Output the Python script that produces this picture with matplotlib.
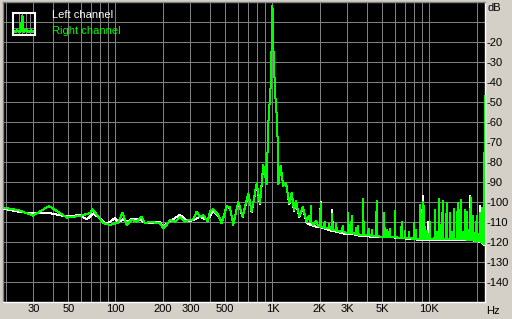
import numpy as np
import matplotlib
matplotlib.use("Agg")
import matplotlib.pyplot as plt

# ---------------- data ----------------
# Right channel (green) – smooth part / lobes around the 1 kHz tone
green_freq = [19.2, 24.6, 29.8, 37.7, 49.1, 59.4, 68.8, 71.6, 83.2, 92.3,
              103.7, 111.1, 117.8, 126.8, 136.5, 146.8, 154.2, 165.9, 178.5, 192.0,
              201.6, 211.9, 222.4, 239.3, 257.5, 277.1, 290.9, 313.0, 329.0, 345.3,
              362.4, 386.6, 399.9, 419.7, 451.6, 474.6, 510.7, 536.1, 562.8, 605.5,
              645.9, 701.3, 737.1, 793.0, 832.6, 874.0, 918.5, 940.2, 971.1, 989.8,
              1000, 1010.3, 1037.3, 1072.9, 1091.9, 1127, 1172, 1219, 1280, 1326,
              1371, 1410, 1480, 1560, 1650, 1700, 1819, 1900, 1950, 2007,
              2214, 2439, 2691, 2969, 3270, 3608, 3981, 4386, 4838, 5882,
              6488, 8699, 11667, 15645, 20980, 22250, 22550]
green_db = [-102.7, -104.3, -106.8, -102.0, -107.8, -107.0, -105.5, -103.7, -110.5, -111.5,
            -110.3, -105.3, -111.5, -109.0, -109.8, -107.3, -110.7, -109.8, -110.3, -110.7,
            -113.2, -111.5, -109.0, -109.8, -107.7, -109.8, -109.0, -108.7, -104.8, -107.3,
            -106.5, -109.8, -104.8, -103.7, -106.5, -110.7, -102.0, -102.7, -111.5, -99.8,
            -107.3, -95.7, -104.8, -90.7, -100.7, -81.5, -91.0, -61.0, -44.0, -20.0,
            -2.0, -20.0, -44.0, -61.0, -91.0, -82.0, -92.0, -90.3, -100.7, -95.3,
            -104.0, -99.5, -107.0, -102.5, -110.0, -107.0, -111.5, -109.5, -112.0, -112.3,
            -113.2, -114.0, -114.8, -115.7, -115.7, -116.5, -116.5, -117.0, -117.3, -117.3,
            -118.2, -118.5, -118.5, -118.5, -119.5, -121.0, -47.0]

# Right channel (green) – narrow spurs in the noise floor: frequency, top, foot
green_spur_freq = [1759, 2027, 2150, 2300, 2404, 2550, 2800, 3040, 3195, 3400,
                   3500, 3787, 4100, 4300, 4610, 5154, 5400, 5600, 6029, 6652,
                   7000, 7400, 7964, 8200, 8699, 9053, 9267, 9700, 10074, 10840,
                   11100, 11548, 12140, 12873, 13510, 14000, 14325, 15122, 15801, 16300,
                   16833, 17412, 17900, 18300, 19010, 19980, 20500, 20970, 21695]
green_spur_top = [-102.0, -100.7, -110.0, -111.0, -106.0, -111.0, -112.0, -105.7, -107.0, -113.0,
                  -112.0, -98.7, -113.5, -114.0, -99.3, -105.3, -114.0, -113.5, -104.3, -109.8,
                  -114.5, -115.0, -110.7, -114.0, -101.5, -100.0, -102.0, -114.5, -110.0, -104.0,
                  -115.0, -98.7, -99.3, -100.3, -105.7, -115.0, -103.7, -100.3, -99.0, -115.0,
                  -104.0, -104.8, -115.0, -97.7, -107.0, -107.0, -116.0, -105.5, -103.0]
green_spur_foot = [-110.0, -112.3, -112.8, -113.0, -114.0, -114.2, -114.6, -115.5, -115.7, -115.9,
                   -116.0, -116.5, -116.5, -116.8, -117.0, -117.3, -117.3, -117.3, -117.5, -118.0,
                   -118.1, -118.2, -118.3, -118.4, -118.5, -118.5, -118.5, -118.5, -118.5, -118.5,
                   -118.5, -118.5, -118.5, -118.5, -118.5, -118.5, -118.5, -118.5, -118.5, -118.6,
                   -118.7, -118.8, -118.9, -119.0, -119.2, -119.4, -119.5, -119.5, -120.0]

# Left channel (white)
white_freq = [19.2, 24.6, 29.8, 36.5, 48.9, 59.4, 65.6, 72.2, 87.9, 99.3,
              104.2, 111.6, 118.3, 126.8, 133.1, 143.2, 154.2, 178.5, 192.0, 201.6,
              222.4, 257.5, 290.9, 313.0, 345.3, 386.6, 419.7, 451.6, 474.6, 510.7,
              536.1, 562.8, 605.5, 645.9, 701.3, 737.1, 793.0, 832.6, 874.0, 918.5,
              940.2, 971.1, 989.8, 1000, 1010.3, 1037.3, 1072.9, 1091.9, 1127, 1172,
              1219, 1280, 1326, 1371, 1410, 1480, 1560, 1650, 1819, 2007,
              2439, 2969, 3608, 4386, 5882, 8699, 11667, 15645, 20980, 22250]
white_db = [-103.3, -105.0, -105.7, -105.3, -107.3, -106.5, -108.7, -105.7, -111.0, -108.0,
            -110.3, -108.5, -110.0, -108.5, -108.5, -108.7, -110.5, -110.3, -110.0, -112.5,
            -109.5, -106.5, -109.7, -109.0, -107.5, -109.0, -104.3, -107.0, -110.0, -102.3,
            -103.0, -111.0, -100.0, -107.5, -96.0, -105.0, -91.0, -101.0, -82.0, -91.0,
            -61.0, -44.0, -20.0, -2.0, -20.0, -44.0, -61.0, -91.0, -82.0, -92.0,
            -90.5, -101.0, -95.5, -104.5, -100.0, -107.5, -103.0, -110.5, -112.0, -112.7,
            -114.4, -116.1, -116.9, -117.4, -117.7, -118.9, -118.9, -118.9, -119.9, -121.3]
white_spur_freq = [2027, 2404, 3195, 9053, 9800, 18200, 21000]
white_spur_top = [-100.0, -104.0, -108.0, -97.0, -110.0, -97.0, -102.0]
white_spur_foot = [-112.7, -114.4, -116.0, -118.9, -118.9, -119.0, -119.9]

# axis texts
x_tick_freq = [30, 50, 100, 200, 300, 500, 1000, 2000, 3000, 5000, 10000]
x_tick_text = ["30", "50", "100", "200", "300", "500", "1K", "2K", "3K", "5K", "10K"]
y_tick_db = [-20, -30, -40, -50, -60, -70, -80, -90, -100, -110, -120, -130, -140]
legend_names = ["Left channel", "Right channel"]

# legend icon (small spectrum glyph)
icon_x = [0.05, 0.2, 0.3, 0.38, 0.42, 0.46, 0.5, 0.6, 0.7, 0.8, 0.95]
icon_y = [0.12, 0.18, 0.12, 0.2, 0.85, 0.2, 0.15, 0.22, 0.12, 0.18, 0.12]


def merge(base_f, base_db, spur_f, spur_top, spur_foot, w=1.0065):
    pts = list(zip(base_f, base_db))
    for f, t, b in zip(spur_f, spur_top, spur_foot):
        pts += [(f / w, b), (f, t), (f * w, b)]
    pts.sort(key=lambda p: p[0])
    return [p[0] for p in pts], [p[1] for p in pts]


gf, gd = merge(green_freq, green_db, green_spur_freq, green_spur_top, green_spur_foot)
wf, wd = merge(white_freq, white_db, white_spur_freq, white_spur_top, white_spur_foot)

# ---------------- figure ----------------
W, H = 512, 319
BG = "#d4d0c8"
GRID = "#808080"
GREEN = "#00ff00"
fig = plt.figure(figsize=(W / 100, H / 100), dpi=100, facecolor=BG)
ax = fig.add_axes([3 / W, 17 / H, 482 / W, 300 / H], facecolor="black")
ax.set_xscale("log")
ax.set_xlim(19.2, 22600)
ax.set_ylim(-150, 0)

grid_f = [m * 10 ** k for k in range(1, 5) for m in range(1, 10) if 19.2 < m * 10 ** k < 22600]
for f in grid_f:
    ax.axvline(f, color=GRID, lw=0.72, antialiased=False, zorder=1)
for d in range(-140, 0, 10):
    ax.axhline(d, color=GRID, lw=0.72, antialiased=False, zorder=1)

ax.plot(wf, wd, color="white", lw=0.72, antialiased=False, zorder=3)
ax.plot(gf, gd, color=GREEN, lw=0.72, antialiased=False, zorder=4)

ax.xaxis.set_minor_locator(matplotlib.ticker.NullLocator())
ax.set_xticks(x_tick_freq)
ax.set_xticklabels(x_tick_text)
ax.yaxis.tick_right()
ax.set_yticks(y_tick_db)
ax.set_yticklabels([str(v) for v in y_tick_db])
ax.tick_params(axis="both", length=0, labelsize=8, colors="black")
ax.tick_params(axis="x", pad=1.5)
ax.tick_params(axis="y", pad=1.2)
for lab in ax.get_xticklabels() + ax.get_yticklabels():
    lab.set_family("Liberation Sans")

for s in ("left", "top"):
    ax.spines[s].set_color(GRID)
for s in ("right", "bottom"):
    ax.spines[s].set_color("white")
for s in ax.spines.values():
    s.set_linewidth(1.0)

fig.text(487 / W, 1 - 8 / H, "dB", ha="left", va="center", fontsize=8, family="Liberation Sans")
fig.text(486 / W, 1 - 311 / H, "Hz", ha="left", va="center", fontsize=8, family="Liberation Sans")

# legend
fig.text(52 / W, 1 - 15 / H, legend_names[0], color="white", ha="left", va="center",
         fontsize=8, family="Liberation Sans")
fig.text(52 / W, 1 - 31 / H, legend_names[1], color=GREEN, ha="left", va="center",
         fontsize=8, family="Liberation Sans")
iax = fig.add_axes([13 / W, 1 - 34.5 / H, 22 / W, 21.5 / H], facecolor="black")
iax.set_xlim(0, 1)
iax.set_ylim(0, 1)
for gx in (0.25, 0.42, 0.6, 0.78):
    iax.axvline(gx, color=GRID, lw=0.72, antialiased=False)
for gy in (0.3, 0.6):
    iax.axhline(gy, color=GRID, lw=0.72, antialiased=False)
iax.plot(icon_x, icon_y, color=GREEN, lw=1.2, antialiased=False)
iax.set_xticks([])
iax.set_yticks([])
for s in iax.spines.values():
    s.set_color("white")
    s.set_linewidth(1.5)

fig.savefig("out.png", dpi=100, facecolor=BG)
